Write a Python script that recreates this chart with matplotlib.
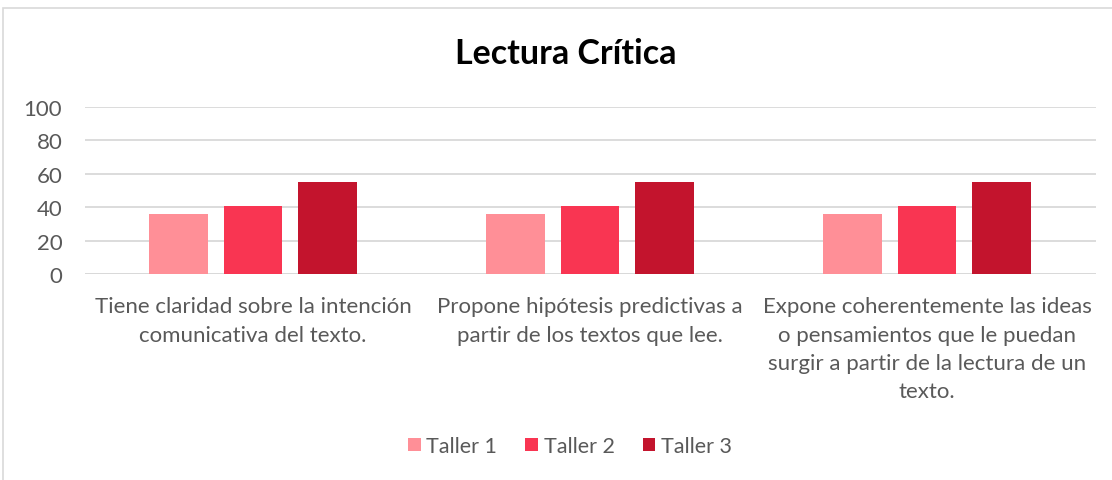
import matplotlib.pyplot as plt
import numpy as np
from matplotlib.patches import Rectangle

plt.rcParams['font.family'] = ['Lato', 'DejaVu Sans']

# data
categories = [
    "Tiene claridad sobre la intención\ncomunicativa del texto.",
    "Propone hipótesis predictivas a\npartir de los textos que lee.",
    "Expone coherentemente las ideas\no pensamientos que le puedan\nsurgir a partir de la lectura de un\ntexto.",
]
series_names = ["Taller 1", "Taller 2", "Taller 3"]
taller1 = [36, 36, 36]
taller2 = [41, 41, 41]
taller3 = [55, 55, 55]
yticks = [0, 20, 40, 60, 80, 100]

colors = ["#FF8F97", "#F93552", "#C3142D"]
W, H = 1112, 481
fig = plt.figure(figsize=(W / 100, H / 100), dpi=100)

# chart frame (cropped on the right/bottom)
fig.add_artist(Rectangle((3 / W, -0.1), 1.2, 1.1 - 9 / H, transform=fig.transFigure,
                         fill=False, edgecolor="#D9D9D9", lw=1.2))

ax = fig.add_axes([84.5 / W, 206 / H, 1011 / W, 167 / H])

x = np.arange(len(categories))
bw, step = 0.175, 0.221
for i, (vals, name) in enumerate(zip([taller1, taller2, taller3], series_names)):
    ax.bar(x + (i - 1) * step, vals, bw, color=colors[i], label=name, zorder=3)

ax.set_xlim(-0.5, len(categories) - 0.5)
ax.set_ylim(0, 100)
ax.set_yticks(yticks)
ax.yaxis.grid(True, color="#D9D9D9", lw=1.3, zorder=0)
for s in ax.spines.values():
    s.set_visible(False)
ax.axhline(0, color="#D9D9D9", lw=1.3, zorder=1)
ax.tick_params(axis="y", length=0, pad=16, labelsize=16, labelcolor="#595959")
ax.tick_params(axis="x", length=0, pad=16, labelsize=16, labelcolor="#595959")
ax.set_xticks(x)
ax.set_xticklabels(categories, linespacing=1.52, va="top")
for lbl in ax.get_yticklabels():
    lbl.set_clip_on(False)

fig.text(566 / W, 1 - 54 / H, "Lectura Crítica", ha="center", va="center",
         fontsize=24.5, fontweight="bold", color="black")

fig.legend(loc="center", bbox_to_anchor=(570 / W, 1 - 447 / H), ncol=3, frameon=False,
           fontsize=15.5, labelcolor="#595959", handlelength=0.6, handleheight=0.6,
           handletextpad=0.25, columnspacing=1.3)

fig.savefig("out.png", dpi=100)
